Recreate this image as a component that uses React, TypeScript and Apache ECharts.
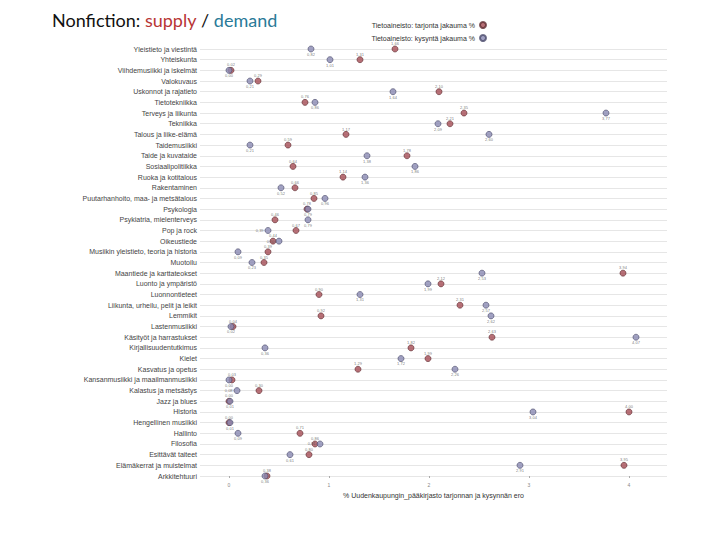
import React, { useEffect, useRef } from "react";
import * as echarts from "echarts";

const categories = [
  "Yleistieto ja viestintä",
  "Yhteiskunta",
  "Viihdemusiikki ja iskelmät",
  "Valokuvaus",
  "Uskonnot ja rajatieto",
  "Tietotekniikka",
  "Terveys ja liikunta",
  "Tekniikka",
  "Talous ja liike-elämä",
  "Taidemusiikki",
  "Taide ja kuvataide",
  "Sosiaalipolitiikka",
  "Ruoka ja kotitalous",
  "Rakentaminen",
  "Puutarhanhoito, maa- ja metsätalous",
  "Psykologia",
  "Psykiatria, mielenterveys",
  "Pop ja rock",
  "Oikeustiede",
  "Musiikin yleistieto, teoria ja historia",
  "Muotoilu",
  "Maantiede ja karttateokset",
  "Luonto ja ympäristö",
  "Luonnontieteet",
  "Liikunta, urheilu, pelit ja leikit",
  "Lemmikit",
  "Lastenmusiikki",
  "Käsityöt ja harrastukset",
  "Kirjallisuudentutkimus",
  "Kielet",
  "Kasvatus ja opetus",
  "Kansanmusiikki ja maailmanmusiikki",
  "Kalastus ja metsästys",
  "Jazz ja blues",
  "Historia",
  "Hengellinen musiikki",
  "Hallinto",
  "Filosofia",
  "Esittävät taiteet",
  "Elämäkerrat ja muistelmat",
  "Arkkitehtuuri",
];

const supply = [
  1.66, 1.31, 0.02, 0.29, 2.1, 0.76, 2.35, 2.21, 1.17, 0.59, 1.78, 0.64, 1.14,
  0.66, 0.85, 0.78, 0.46, 0.67, 0.44, 0.39, 0.35, 3.94, 2.12, 0.9, 2.31, 0.92,
  0.04, 2.63, 1.82, 1.99, 1.29, 0.03, 0.3, 0.0, 4.0, 0.0, 0.71, 0.86, 0.8,
  3.95, 0.38,
];

const demand = [
  0.82, 1.01, 0.0, 0.21, 1.64, 0.86, 3.77, 2.09, 2.6, 0.21, 1.38, 1.86, 1.36,
  0.52, 0.96, 0.79, 0.79, 0.39, 0.5, 0.09, 0.23, 2.53, 1.99, 1.31, 2.57, 2.62,
  0.02, 4.07, 0.36, 1.72, 2.26, 0.0, 0.08, 0.01, 3.04, 0.01, 0.09, 0.91, 0.61,
  2.91, 0.36,
];

const xTicks = [0, 1, 2, 3, 4];

const seriesNames = [
  "Tietoaineisto: tarjonta jakauma %",
  "Tietoaineisto: kysyntä jakauma %",
];

const xAxisName = "% Uudenkaupungin_pääkirjasto tarjonnan ja kysynnän ero";

export default function App() {
  const ref = useRef<HTMLDivElement>(null);

  useEffect(() => {
    if (!ref.current) return;
    const chart = echarts.init(ref.current, undefined, { renderer: "svg" });
    const fmt = (p: any) => String(p.value[0].toFixed(2)).replace(".", ",");
    // which demand label would collide with the next row's supply label
    const clashes = (i: number) =>
      i + 1 < categories.length && Math.abs(demand[i] - supply[i + 1]) < 0.12;
    chart.setOption({
      animation: false,
      backgroundColor: "#ffffff",
      textStyle: { fontFamily: "Liberation Sans, Arial, sans-serif" },
      title: {
        left: 47,
        top: 6,
        text: "{a|Nonfiction: }{b|supply}{a| / }{c|demand}",
        textStyle: {
          fontWeight: "normal",
          rich: {
            a: { fontSize: 18, fontWeight: "normal", color: "#111111", fontFamily: "Lato, sans-serif" },
            b: { fontSize: 18, fontWeight: "normal", color: "#b83535", fontFamily: "Lato, sans-serif" },
            c: { fontSize: 18, fontWeight: "normal", color: "#2a7a98", fontFamily: "Lato, sans-serif" },
          },
        },
      },
      legend: {
        orient: "vertical",
        right: 228,
        top: 16,
        align: "right",
        itemWidth: 6,
        itemHeight: 6,
        itemGap: 5,
        textStyle: { fontSize: 7, color: "#333333" },
        data: seriesNames,
      },
      grid: { left: 200, right: 53, top: 49, bottom: 64, containLabel: false },
      xAxis: {
        type: "value",
        min: -0.29,
        max: 4.38,
        axisLine: { show: false },
        splitLine: { show: false },
        axisTick: {
          show: true,
          customValues: xTicks,
          length: 2,
          lineStyle: { color: "#aaaaaa" },
        },
        axisLabel: {
          customValues: xTicks,
          fontSize: 5,
          color: "#888888",
          margin: 6,
        },
        name: xAxisName,
        nameLocation: "middle",
        nameGap: 14,
        nameTextStyle: { fontSize: 7, color: "#333333" },
      },
      yAxis: {
        type: "category",
        data: categories,
        inverse: true,
        boundaryGap: false,
        axisLine: { show: false },
        axisTick: { show: false },
        axisLabel: { fontSize: 7, color: "#444444", margin: 3, interval: 0 },
        splitLine: { show: true, lineStyle: { color: "#e6e6e6", width: 1 } },
      },
      series: [
        {
          name: seriesNames[0],
          type: "scatter",
          symbol: "circle",
          symbolSize: 6,
          itemStyle: { color: "#a54c55", borderColor: "#5e2a30", borderWidth: 0.8 },
          label: {
            show: true,
            position: "top",
            distance: 0,
            fontSize: 4,
            color: "#555555",
            formatter: fmt,
          },
          data: categories.map((c, i) => [supply[i], c]),
        },
        {
          name: seriesNames[1],
          type: "scatter",
          symbol: "circle",
          symbolSize: 6,
          itemStyle: { color: "#8a8ab3", borderColor: "#4a4a6a", borderWidth: 0.8 },
          label: {
            show: true,
            position: "bottom",
            distance: 0,
            fontSize: 4,
            color: "#555555",
            formatter: fmt,
          },
          data: categories.map((c, i) =>
            clashes(i)
              ? { value: [demand[i], c], label: { position: "left", distance: 1 } }
              : [demand[i], c]
          ),
        },
      ],
    });
    return () => chart.dispose();
  }, []);

  return (
    <div
      ref={ref}
      style={{ position: "fixed", left: 0, top: 0, width: 720, height: 540 }}
    />
  );
}
